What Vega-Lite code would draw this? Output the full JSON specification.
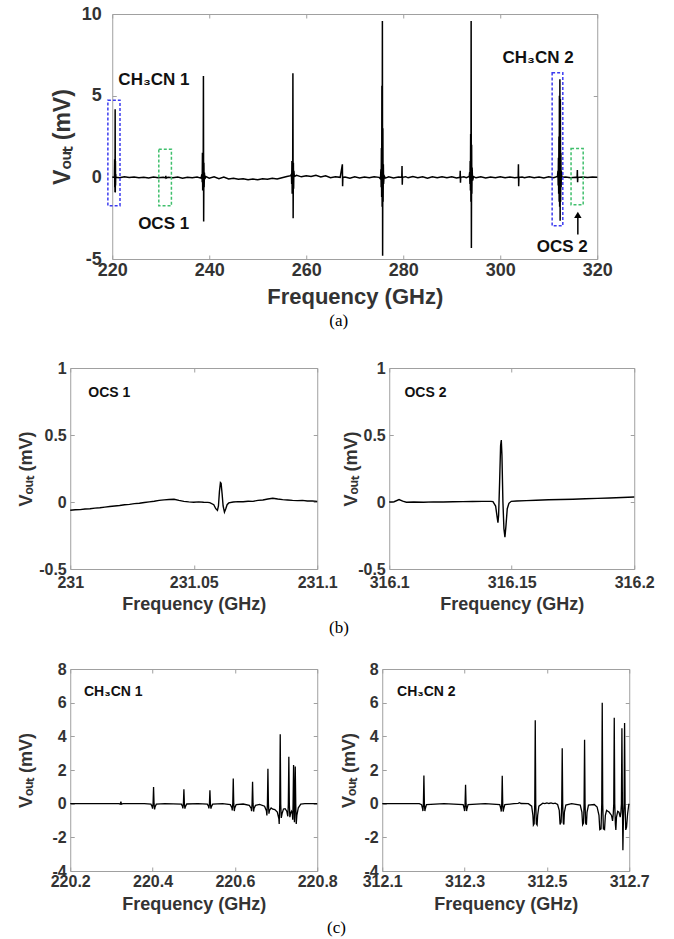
{
"$schema": "https://vega.github.io/schema/vega-lite/v6.json",
"background": "white",
"padding": {"left": -11, "top": 4, "right": 5, "bottom": 4},
"center": true,
"spacing": 29,
"config": {
  "view": {"stroke": "#a0a0a0", "strokeWidth": 1},
  "axis": {"domain": false, "grid": false, "ticks": true, "tickColor": "#a0a0a0", "tickSize": -4, "tickWidth": 1,
           "labelFont": "Liberation Sans", "labelFontWeight": "bold", "labelColor": "#333333", "labelFontSize": 16,
           "titleFont": "Liberation Sans", "titleFontWeight": "bold", "titleColor": "#333333", "titleFontSize": 18,
           "labelFlush": false, "labelOverlap": false},
  "title": {"font": "Liberation Serif", "fontWeight": "normal", "fontSize": 17, "color": "#000000", "anchor": "middle"}
},
"datasets": {
  "top": [
    {"f":220.0,"v":0.02},{"f":220.3,"v":0.0},{"f":220.45,"v":0.0},{"f":220.5,"v":1.1},{"f":220.52,"v":-0.6},{"f":220.55,"v":0.8},{"f":220.57,"v":-0.9},{"f":220.6,"v":4.17},{"f":220.63,"v":-0.93},{"f":220.66,"v":1.0},{"f":220.68,"v":-0.5},{"f":220.72,"v":0.2},{"f":220.76,"v":0.0},
    {"f":221.5,"v":-0.02},{"f":222.5,"v":0.03},{"f":223.5,"v":-0.01},{"f":224.5,"v":0.02},{"f":225.5,"v":-0.03},{"f":226.5,"v":0.0},{"f":227.5,"v":-0.04},{"f":228.5,"v":0.02},{"f":229.5,"v":-0.02},{"f":230.5,"v":0.01},{"f":231.02,"v":-0.03},{"f":231.06,"v":0.1},{"f":231.1,"v":-0.05},{"f":231.5,"v":0.0},{"f":232.5,"v":-0.03},{"f":233.5,"v":0.02},{"f":234.5,"v":-0.05},{"f":235.5,"v":0.01},{"f":236.5,"v":-0.03},{"f":237.5,"v":0.02},{"f":238.3,"v":-0.05},
    {"f":238.5,"v":0.2},{"f":238.55,"v":-0.3},{"f":238.6,"v":1.5},{"f":238.65,"v":-0.8},{"f":238.7,"v":0.6},{"f":238.75,"v":-0.5},{"f":238.8,"v":6.2},{"f":238.85,"v":-2.7},{"f":238.9,"v":0.9},{"f":238.95,"v":-0.6},{"f":239.0,"v":0.3},{"f":239.1,"v":-0.1},{"f":239.3,"v":0.05},
    {"f":240,"v":-0.05},{"f":241,"v":0.04},{"f":242,"v":-0.08},{"f":243,"v":0.02},{"f":244,"v":-0.1},{"f":245,"v":-0.06},{"f":246,"v":-0.12},{"f":247,"v":-0.08},{"f":248,"v":-0.14},{"f":249,"v":-0.1},{"f":250,"v":-0.15},{"f":251,"v":-0.09},{"f":252,"v":-0.12},{"f":253,"v":-0.05},{"f":254,"v":-0.1},{"f":255,"v":-0.02},{"f":256,"v":0.05},{"f":256.8,"v":0.1},
    {"f":256.95,"v":0.2},{"f":257.0,"v":-0.4},{"f":257.05,"v":1.0},{"f":257.1,"v":-1.0},{"f":257.15,"v":0.8},{"f":257.2,"v":-0.6},{"f":257.25,"v":6.37},{"f":257.3,"v":-2.5},{"f":257.35,"v":0.9},{"f":257.4,"v":-0.7},{"f":257.45,"v":0.4},{"f":257.55,"v":0.05},
    {"f":258,"v":0.12},{"f":259,"v":0.03},{"f":260,"v":0.1},{"f":261,"v":0.05},{"f":262,"v":0.12},{"f":263,"v":0.02},{"f":264,"v":0.1},{"f":265,"v":-0.02},{"f":266,"v":0.04},{"f":267,"v":0.0},{"f":267.45,"v":0.8},{"f":267.5,"v":-0.55},{"f":267.55,"v":0.0},{"f":268,"v":0.02},{"f":269,"v":-0.05},{"f":270,"v":0.03},{"f":271,"v":-0.04},{"f":272,"v":0.02},{"f":273,"v":-0.03},{"f":274,"v":0.04},{"f":275,"v":0.0},{"f":275.3,"v":-0.1},
    {"f":275.4,"v":0.5},{"f":275.45,"v":-0.6},{"f":275.5,"v":1.8},{"f":275.55,"v":-1.2},{"f":275.6,"v":5.6},{"f":275.65,"v":-1.8},{"f":275.7,"v":9.57},{"f":275.75,"v":-4.8},{"f":275.8,"v":3.0},{"f":275.85,"v":-1.5},{"f":275.9,"v":0.8},{"f":275.95,"v":-0.4},{"f":276.05,"v":0.1},{"f":276.3,"v":-0.05},
    {"f":277,"v":0.03},{"f":278,"v":-0.04},{"f":279,"v":0.02},{"f":279.7,"v":0.0},{"f":279.75,"v":0.7},{"f":279.8,"v":-0.45},{"f":279.85,"v":0.0},{"f":280.5,"v":0.04},{"f":281,"v":-0.03},{"f":282,"v":0.05},{"f":283,"v":-0.02},{"f":284,"v":0.04},{"f":285,"v":-0.05},{"f":286,"v":0.03},{"f":287,"v":-0.03},{"f":288,"v":0.04},{"f":289,"v":-0.02},{"f":290,"v":0.03},{"f":291,"v":-0.04},{"f":291.7,"v":0.0},{"f":291.75,"v":0.4},{"f":291.8,"v":-0.33},{"f":291.85,"v":0.0},{"f":292.5,"v":0.03},{"f":293,"v":-0.02},{"f":293.6,"v":0.05},
    {"f":293.7,"v":0.3},{"f":293.75,"v":-0.4},{"f":293.8,"v":1.0},{"f":293.85,"v":-0.8},{"f":293.9,"v":2.65},{"f":293.95,"v":-1.5},{"f":294.0,"v":9.57},{"f":294.05,"v":-4.33},{"f":294.1,"v":2.0},{"f":294.15,"v":-1.0},{"f":294.2,"v":0.6},{"f":294.3,"v":-0.2},{"f":294.5,"v":0.05},
    {"f":295,"v":-0.03},{"f":296,"v":0.03},{"f":297,"v":-0.04},{"f":298,"v":0.02},{"f":299,"v":-0.02},{"f":300,"v":0.04},{"f":301,"v":-0.03},{"f":302,"v":0.02},{"f":303,"v":-0.02},{"f":303.7,"v":0.0},{"f":303.75,"v":0.8},{"f":303.8,"v":-0.55},{"f":303.85,"v":0.0},{"f":304.5,"v":0.02},{"f":305,"v":-0.03},{"f":306,"v":0.03},{"f":307,"v":-0.02},{"f":308,"v":0.02},{"f":309,"v":-0.04},{"f":310,"v":0.03},{"f":311,"v":-0.02},{"f":311.8,"v":0.05},
    {"f":311.9,"v":0.4},{"f":311.95,"v":-0.5},{"f":312.0,"v":1.2},{"f":312.05,"v":-1.0},{"f":312.1,"v":2.5},{"f":312.15,"v":-1.5},{"f":312.2,"v":5.0},{"f":312.25,"v":-1.8},{"f":312.3,"v":6.0},{"f":312.35,"v":-2.66},{"f":312.4,"v":4.8},{"f":312.45,"v":-1.5},{"f":312.5,"v":1.5},{"f":312.55,"v":-0.6},{"f":312.6,"v":0.4},{"f":312.7,"v":0.0},
    {"f":313.5,"v":0.02},{"f":314.5,"v":-0.02},{"f":315.5,"v":0.01},{"f":315.85,"v":0.0},{"f":315.9,"v":0.45},{"f":315.95,"v":-0.3},{"f":316.0,"v":0.0},{"f":317,"v":0.02},{"f":318,"v":-0.01},{"f":319,"v":0.02},{"f":320,"v":0.0}
  ],
  "boxes": [
    {"f1":219.1,"f2":221.6,"v1":-1.74,"v2":4.72,"c":"blue"},
    {"f1":229.6,"f2":232.2,"v1":-1.74,"v2":1.72,"c":"green"},
    {"f1":310.7,"f2":312.9,"v1":-2.97,"v2":6.41,"c":"blue"},
    {"f1":314.6,"f2":317.1,"v1":-1.68,"v2":1.76,"c":"green"}
  ],
  "ann": [
    {"f":228.6,"v":5.94,"t":"CH₃CN 1"},
    {"f":230.6,"v":-2.85,"t":"OCS 1"},
    {"f":307.8,"v":7.33,"t":"CH₃CN 2"},
    {"f":312.8,"v":-4.29,"t":"OCS 2"}
  ],
  "ocs1": [
    {"f":231.000,"v":-0.062},{"f":231.002,"v":-0.058},{"f":231.004,"v":-0.057},{"f":231.006,"v":-0.052},{"f":231.008,"v":-0.05},{"f":231.010,"v":-0.046},{"f":231.012,"v":-0.043},{"f":231.014,"v":-0.038},{"f":231.016,"v":-0.034},{"f":231.018,"v":-0.03},{"f":231.020,"v":-0.026},{"f":231.022,"v":-0.021},{"f":231.024,"v":-0.018},{"f":231.026,"v":-0.012},{"f":231.028,"v":-0.009},{"f":231.030,"v":-0.004},{"f":231.032,"v":0.001},{"f":231.034,"v":0.006},{"f":231.036,"v":0.012},{"f":231.038,"v":0.016},{"f":231.040,"v":0.019},{"f":231.042,"v":0.02},{"f":231.044,"v":0.012},{"f":231.046,"v":0.005},{"f":231.048,"v":0.001},{"f":231.050,"v":-0.002},{"f":231.052,"v":0.001},{"f":231.054,"v":-0.002},{"f":231.0556,"v":-0.003},
    {"f":231.05649,"v":-0.005},{"f":231.05811,"v":-0.02},{"f":231.05892,"v":-0.05},{"f":231.05959,"v":-0.0625},{"f":231.06,"v":-0.03},{"f":231.06041,"v":0.08},{"f":231.06081,"v":0.145},{"f":231.06108,"v":0.14},{"f":231.06149,"v":0.06},{"f":231.06189,"v":-0.03},{"f":231.06243,"v":-0.075},{"f":231.06297,"v":-0.05},{"f":231.06351,"v":-0.02},{"f":231.06419,"v":-0.007},
    {"f":231.066,"v":0.0},{"f":231.068,"v":0.003},{"f":231.070,"v":0.002},{"f":231.072,"v":0.006},{"f":231.074,"v":0.005},{"f":231.076,"v":0.012},{"f":231.078,"v":0.015},{"f":231.080,"v":0.022},{"f":231.082,"v":0.028},{"f":231.084,"v":0.022},{"f":231.086,"v":0.018},{"f":231.088,"v":0.015},{"f":231.090,"v":0.012},{"f":231.092,"v":0.01},{"f":231.094,"v":0.012},{"f":231.096,"v":0.008},{"f":231.098,"v":0.007},{"f":231.100,"v":0.005}
  ],
  "ocs2": [
    {"f":316.100,"v":0.0},{"f":316.102,"v":0.002},{"f":316.104,"v":0.018},{"f":316.1055,"v":0.006},{"f":316.107,"v":-0.002},{"f":316.110,"v":0.0},{"f":316.114,"v":-0.002},{"f":316.118,"v":0.001},{"f":316.122,"v":0.0},{"f":316.126,"v":0.002},{"f":316.130,"v":0.003},{"f":316.134,"v":0.004},{"f":316.138,"v":0.005},{"f":316.1415,"v":0.005},
    {"f":316.14233,"v":0.003},{"f":316.14342,"v":-0.03},{"f":316.1441,"v":-0.12},{"f":316.14437,"v":-0.155},{"f":316.14464,"v":-0.1},{"f":316.14505,"v":0.15},{"f":316.14545,"v":0.42},{"f":316.14573,"v":0.4625},{"f":316.146,"v":0.35},{"f":316.1464,"v":0.0},{"f":316.14681,"v":-0.2},{"f":316.14722,"v":-0.2625},{"f":316.14763,"v":-0.18},{"f":316.14817,"v":-0.05},{"f":316.14885,"v":-0.01},{"f":316.1498,"v":0.005},
    {"f":316.152,"v":0.008},{"f":316.156,"v":0.01},{"f":316.160,"v":0.013},{"f":316.165,"v":0.017},{"f":316.170,"v":0.019},{"f":316.175,"v":0.021},{"f":316.180,"v":0.024},{"f":316.185,"v":0.027},{"f":316.190,"v":0.03},{"f":316.195,"v":0.034},{"f":316.200,"v":0.037}
  ],
  "ch1": [
    {"f":220.200,"v":0.0},{"f":220.250,"v":0.0},{"f":220.300,"v":0.0},{"f":220.318,"v":0.0},{"f":220.3215,"v":-0.03},{"f":220.323,"v":0.12},{"f":220.3245,"v":-0.03},{"f":220.328,"v":0.0},
    {"f":220.380,"v":0.0},{"f":220.396,"v":-0.03},{"f":220.399,"v":-0.18},{"f":220.3999,"v":-0.3},{"f":220.4012,"v":0.0},{"f":220.4024,"v":0.99},{"f":220.4036,"v":0.0},{"f":220.4049,"v":-0.34},{"f":220.406,"v":-0.2},{"f":220.409,"v":-0.03},
    {"f":220.430,"v":0.0},{"f":220.470,"v":-0.03},{"f":220.4728,"v":-0.17},{"f":220.4736,"v":-0.28},{"f":220.4749,"v":0.0},{"f":220.4761,"v":0.85},{"f":220.4773,"v":0.0},{"f":220.4786,"v":-0.3},{"f":220.4797,"v":-0.18},{"f":220.483,"v":-0.02},
    {"f":220.510,"v":0.0},{"f":220.533,"v":-0.03},{"f":220.536,"v":-0.17},{"f":220.5368,"v":-0.28},{"f":220.5381,"v":0.0},{"f":220.5393,"v":0.79},{"f":220.5405,"v":0.0},{"f":220.5418,"v":-0.3},{"f":220.5429,"v":-0.18},{"f":220.546,"v":-0.03},
    {"f":220.570,"v":0.0},{"f":220.589,"v":-0.06},{"f":220.5927,"v":-0.24},{"f":220.5935,"v":-0.4},{"f":220.5948,"v":0.0},{"f":220.596,"v":1.5},{"f":220.5972,"v":0.0},{"f":220.5985,"v":-0.44},{"f":220.5996,"v":-0.26},{"f":220.603,"v":-0.06},
    {"f":220.620,"v":-0.02},{"f":220.635,"v":-0.1},{"f":220.6396,"v":-0.28},{"f":220.6404,"v":-0.45},{"f":220.6417,"v":0.0},{"f":220.6429,"v":1.3},{"f":220.6441,"v":0.0},{"f":220.6454,"v":-0.47},{"f":220.6465,"v":-0.28},{"f":220.650,"v":-0.1},
    {"f":220.660,"v":-0.04},{"f":220.672,"v":-0.15},{"f":220.6765,"v":-0.42},{"f":220.6777,"v":-0.7},{"f":220.679,"v":0.0},{"f":220.6802,"v":2.08},{"f":220.6814,"v":0.0},{"f":220.6827,"v":-0.6},{"f":220.684,"v":-0.4},
    {"f":220.688,"v":-0.25},{"f":220.692,"v":-0.33},{"f":220.697,"v":-0.35},{"f":220.703,"v":-0.5},{"f":220.7068,"v":-0.9},{"f":220.7076,"v":-1.2},{"f":220.7089,"v":0.0},{"f":220.7101,"v":4.12},{"f":220.7113,"v":0.0},{"f":220.7126,"v":-0.85},{"f":220.7145,"v":-0.6},
    {"f":220.718,"v":-0.32},{"f":220.722,"v":-0.3},{"f":220.726,"v":-0.45},{"f":220.7285,"v":-0.75},{"f":220.7298,"v":0.0},{"f":220.731,"v":2.79},{"f":220.7322,"v":0.0},{"f":220.7335,"v":-0.8},{"f":220.7355,"v":-0.55},{"f":220.7375,"v":-0.45},
    {"f":220.7395,"v":-0.6},{"f":220.7405,"v":-0.95},{"f":220.7413,"v":0.0},{"f":220.7425,"v":2.3},{"f":220.7437,"v":0.0},{"f":220.7446,"v":-1.1},{"f":220.7454,"v":0.0},{"f":220.7466,"v":2.2},{"f":220.7478,"v":0.0},{"f":220.749,"v":-1.2},{"f":220.7505,"v":-0.7},{"f":220.754,"v":-0.25},{"f":220.760,"v":-0.03},{"f":220.770,"v":0.0},{"f":220.800,"v":0.0}
  ],
  "ch2": [
    {"f":312.100,"v":0.0},{"f":312.150,"v":0.0},{"f":312.190,"v":0.0},{"f":312.1955,"v":-0.06},{"f":312.198,"v":-0.3},{"f":312.1988,"v":-0.44},{"f":312.2,"v":0.0},{"f":312.2012,"v":1.68},{"f":312.2024,"v":0.0},{"f":312.2036,"v":-0.44},{"f":312.2046,"v":-0.3},{"f":312.2075,"v":-0.05},
    {"f":312.250,"v":0.0},{"f":312.2965,"v":-0.05},{"f":312.2992,"v":-0.3},{"f":312.3,"v":-0.44},{"f":312.3012,"v":0.0},{"f":312.3024,"v":1.13},{"f":312.3036,"v":0.0},{"f":312.3048,"v":-0.44},{"f":312.3058,"v":-0.3},{"f":312.3085,"v":-0.05},
    {"f":312.350,"v":0.0},{"f":312.3855,"v":-0.06},{"f":312.3883,"v":-0.32},{"f":312.3891,"v":-0.47},{"f":312.3903,"v":0.0},{"f":312.3915,"v":1.66},{"f":312.3927,"v":0.0},{"f":312.3939,"v":-0.47},{"f":312.3949,"v":-0.32},{"f":312.3978,"v":-0.06},
    {"f":312.420,"v":0.0},{"f":312.430,"v":0.02},{"f":312.4336,"v":0.06},{"f":312.437,"v":0.01},{"f":312.455,"v":0.0},
    {"f":312.463,"v":-0.15},{"f":312.466,"v":-0.7},{"f":312.4672,"v":-1.27},{"f":312.469,"v":-1.2},{"f":312.4705,"v":0.0},{"f":312.4717,"v":4.95},{"f":312.4729,"v":0.0},{"f":312.4743,"v":-1.2},{"f":312.4762,"v":-1.27},{"f":312.4775,"v":-0.7},{"f":312.4805,"v":-0.15},
    {"f":312.490,"v":0.03},{"f":312.495,"v":0.0},{"f":312.500,"v":0.05},{"f":312.505,"v":0.01},{"f":312.510,"v":0.04},{"f":312.515,"v":0.0},{"f":312.520,"v":0.03},
    {"f":312.526,"v":-0.05},{"f":312.530,"v":-0.4},{"f":312.532,"v":-1.23},{"f":312.5345,"v":-1.1},{"f":312.536,"v":0.0},{"f":312.5372,"v":3.29},{"f":312.5384,"v":0.0},{"f":312.5398,"v":-1.15},{"f":312.5412,"v":-1.23},{"f":312.5425,"v":-0.5},{"f":312.546,"v":-0.08},
    {"f":312.560,"v":0.0},{"f":312.581,"v":-0.08},{"f":312.585,"v":-0.5},{"f":312.5868,"v":-1.25},{"f":312.589,"v":-1.15},{"f":312.5903,"v":0.0},{"f":312.5915,"v":3.8},{"f":312.5927,"v":0.0},{"f":312.5941,"v":-1.15},{"f":312.596,"v":-1.25},{"f":312.5975,"v":-0.5},{"f":312.601,"v":-0.08},
    {"f":312.615,"v":-0.05},{"f":312.622,"v":-0.2},{"f":312.6265,"v":-0.7},{"f":312.6285,"v":-1.54},{"f":312.6315,"v":-1.5},{"f":312.6332,"v":0.0},{"f":312.6344,"v":6.0},{"f":312.6356,"v":0.0},{"f":312.6372,"v":-1.5},{"f":312.64,"v":-1.54},{"f":312.642,"v":-0.7},
    {"f":312.645,"v":-0.4},{"f":312.648,"v":-0.45},{"f":312.651,"v":-0.5},{"f":312.657,"v":-0.7},{"f":312.6595,"v":-1.03},{"f":312.6612,"v":-0.6},{"f":312.6624,"v":0.0},{"f":312.6636,"v":5.11},{"f":312.6648,"v":0.0},{"f":312.6663,"v":-1.2},{"f":312.6675,"v":-1.56},{"f":312.669,"v":-0.8},
    {"f":312.672,"v":-0.45},{"f":312.675,"v":-0.5},{"f":312.678,"v":-0.8},{"f":312.6798,"v":-0.5},{"f":312.681,"v":0.0},{"f":312.6822,"v":4.48},{"f":312.6834,"v":0.0},{"f":312.6846,"v":-2.77},{"f":312.6858,"v":-1.0},{"f":312.6875,"v":0.0},{"f":312.6887,"v":4.79},{"f":312.6899,"v":0.0},{"f":312.6915,"v":-1.56},{"f":312.6935,"v":-1.4},{"f":312.696,"v":-0.6},{"f":312.699,"v":-0.05},{"f":312.7,"v":0.0}
  ]
},
"vconcat": [
  {
    "width": 485, "height": 245,
    "title": {"text": "(a)", "orient": "bottom", "offset": 6, "frame": "group", "dx": -16},
    "resolve": {"axis": {"x": "independent", "y": "independent"}},
    "layer": [
      {"data": {"name": "top"}, "mark": {"type": "line", "color": "#000000", "strokeWidth": 1.5},
       "encoding": {
         "x": {"field": "f", "type": "quantitative", "scale": {"domain": [220, 320], "nice": false, "zero": false},
               "axis": {"values": [220,240,260,280,300,320], "title": "Frequency (GHz)", "labelFontSize": 18, "titleFontSize": 22, "labelPadding": 6, "titlePadding": 7, "labelExpr": "'' + datum.value"}},
         "y": {"field": "v", "type": "quantitative", "scale": {"domain": [-5, 10], "nice": false, "zero": false},
               "axis": {"values": [-5,0,5,10], "title": "Vₒᵤₜ (mV)", "labelFontSize": 18, "titleFontSize": 23, "labelPadding": 15, "titlePadding": 7, "labelExpr": "'' + datum.value"}}
       }},
      {"data": {"name": "boxes"}, "mark": {"type": "rect", "filled": false, "strokeDash": [3, 2], "strokeWidth": 1.5},
       "encoding": {
         "x": {"field": "f1", "type": "quantitative", "scale": {"domain": [220, 320], "nice": false, "zero": false},
               "axis": {"orient": "top", "values": [220,240,260,280,300,320], "labels": false, "title": null}},
         "x2": {"field": "f2"},
         "y": {"field": "v1", "type": "quantitative", "scale": {"domain": [-5, 10], "nice": false, "zero": false},
               "axis": {"orient": "right", "values": [-5,0,5,10], "labels": false, "title": null}},
         "y2": {"field": "v2"},
         "stroke": {"field": "c", "type": "nominal", "scale": {"domain": ["blue", "green"], "range": ["#3b3bf0", "#3fbf6c"]}, "legend": null}
       }},
      {"data": {"name": "ann"}, "mark": {"type": "text", "font": "Liberation Sans", "fontWeight": "bold", "fontSize": 17, "color": "#111111", "align": "center", "baseline": "middle"},
       "encoding": {
         "x": {"field": "f", "type": "quantitative", "scale": {"domain": [220, 320], "nice": false, "zero": false}, "axis": null},
         "y": {"field": "v", "type": "quantitative", "scale": {"domain": [-5, 10], "nice": false, "zero": false}, "axis": null},
         "text": {"field": "t"}
       }},
      {"data": {"values": [{"f": 316.0, "v1": -3.5, "v2": -2.4}]}, "mark": {"type": "rule", "color": "#000000", "strokeWidth": 1.5},
       "encoding": {
         "x": {"field": "f", "type": "quantitative", "scale": {"domain": [220, 320], "nice": false, "zero": false}, "axis": null},
         "y": {"field": "v1", "type": "quantitative", "scale": {"domain": [-5, 10], "nice": false, "zero": false}, "axis": null},
         "y2": {"field": "v2"}
       }},
      {"data": {"values": [{"f": 316.0, "v": -2.3}]}, "mark": {"type": "point", "shape": "triangle-up", "filled": true, "color": "#000000", "size": 55, "opacity": 1},
       "encoding": {
         "x": {"field": "f", "type": "quantitative", "scale": {"domain": [220, 320], "nice": false, "zero": false}, "axis": null},
         "y": {"field": "v", "type": "quantitative", "scale": {"domain": [-5, 10], "nice": false, "zero": false}, "axis": null}
       }}
    ]
  },
  {
    "spacing": 24,
    "vconcat": [
      {
        "align": "none",
        "spacing": 3,
        "title": {"text": "(b)", "orient": "bottom", "offset": 6, "dx": 17},
        "hconcat": [
          {
            "width": 247, "height": 201,
            "resolve": {"axis": {"x": "independent", "y": "independent"}},
            "layer": [
              {"data": {"name": "ocs1"}, "mark": {"type": "line", "color": "#000000", "strokeWidth": 1.4},
               "encoding": {
                 "x": {"field": "f", "type": "quantitative", "scale": {"domain": [231, 231.1], "nice": false, "zero": false},
                       "axis": {"values": [231, 231.05, 231.1], "title": "Frequency (GHz)", "labelPadding": 9, "titlePadding": 5, "labelExpr": "'' + datum.value"}},
                 "y": {"field": "v", "type": "quantitative", "scale": {"domain": [-0.5, 1], "nice": false, "zero": false},
                       "axis": {"values": [-0.5, 0, 0.5, 1], "title": ["", "Vₒᵤₜ (mV)"], "titleLineHeight": 27.5, "labelPadding": 8, "titlePadding": 1, "minExtent": 34, "maxExtent": 34, "labelExpr": "'' + datum.value"}}
               }},
              {"data": {"values": [{"f": 231.0073, "v": 0.81, "t": "OCS 1"}]}, "mark": {"type": "text", "font": "Liberation Sans", "fontWeight": "bold", "fontSize": 14, "color": "#111111", "align": "left", "baseline": "middle"},
               "encoding": {
                 "x": {"field": "f", "type": "quantitative", "scale": {"domain": [231, 231.1], "nice": false, "zero": false},
                       "axis": {"orient": "top", "values": [231, 231.05, 231.1], "labels": false, "title": null}},
                 "y": {"field": "v", "type": "quantitative", "scale": {"domain": [-0.5, 1], "nice": false, "zero": false},
                       "axis": {"orient": "right", "values": [-0.5, 0, 0.5, 1], "labels": false, "title": null}},
                 "text": {"field": "t"}
               }}
            ]
          },
          {
            "width": 245, "height": 201,
            "resolve": {"axis": {"x": "independent", "y": "independent"}},
            "layer": [
              {"data": {"name": "ocs2"}, "mark": {"type": "line", "color": "#000000", "strokeWidth": 1.4},
               "encoding": {
                 "x": {"field": "f", "type": "quantitative", "scale": {"domain": [316.1, 316.2], "nice": false, "zero": false},
                       "axis": {"values": [316.1, 316.15, 316.2], "title": "Frequency (GHz)", "labelPadding": 9, "titlePadding": 5, "labelExpr": "'' + datum.value"}},
                 "y": {"field": "v", "type": "quantitative", "scale": {"domain": [-0.5, 1], "nice": false, "zero": false},
                       "axis": {"values": [-0.5, 0, 0.5, 1], "title": "Vₒᵤₜ (mV)", "labelPadding": 8, "titlePadding": 1, "minExtent": 28, "maxExtent": 28, "labelExpr": "'' + datum.value"}}
               }},
              {"data": {"values": [{"f": 316.1062, "v": 0.81, "t": "OCS 2"}]}, "mark": {"type": "text", "font": "Liberation Sans", "fontWeight": "bold", "fontSize": 14, "color": "#111111", "align": "left", "baseline": "middle"},
               "encoding": {
                 "x": {"field": "f", "type": "quantitative", "scale": {"domain": [316.1, 316.2], "nice": false, "zero": false},
                       "axis": {"orient": "top", "values": [316.1, 316.15, 316.2], "labels": false, "title": null}},
                 "y": {"field": "v", "type": "quantitative", "scale": {"domain": [-0.5, 1], "nice": false, "zero": false},
                       "axis": {"orient": "right", "values": [-0.5, 0, 0.5, 1], "labels": false, "title": null}},
                 "text": {"field": "t"}
               }}
            ]
          }
        ]
      },
      {
        "align": "none",
        "spacing": 1,
        "title": {"text": "(c)", "orient": "bottom", "offset": 6, "dx": 17},
        "hconcat": [
          {
            "width": 247, "height": 202,
            "resolve": {"axis": {"x": "independent", "y": "independent"}},
            "layer": [
              {"data": {"name": "ch1"}, "mark": {"type": "line", "color": "#000000", "strokeWidth": 1.3},
               "encoding": {
                 "x": {"field": "f", "type": "quantitative", "scale": {"domain": [220.2, 220.8], "nice": false, "zero": false},
                       "axis": {"values": [220.2, 220.4, 220.6, 220.8], "title": "Frequency (GHz)", "labelPadding": 6, "titlePadding": 6, "labelExpr": "'' + datum.value"}},
                 "y": {"field": "v", "type": "quantitative", "scale": {"domain": [-4, 8], "nice": false, "zero": false},
                       "axis": {"values": [-4, -2, 0, 2, 4, 6, 8], "title": ["", "Vₒᵤₜ (mV)"], "titleLineHeight": 27.5, "labelPadding": 8, "titlePadding": 1, "minExtent": 34, "maxExtent": 34, "labelExpr": "'' + datum.value"}}
               }},
              {"data": {"values": [{"f": 220.2333, "v": 6.65, "t": "CH₃CN 1"}]}, "mark": {"type": "text", "font": "Liberation Sans", "fontWeight": "bold", "fontSize": 14, "color": "#111111", "align": "left", "baseline": "middle"},
               "encoding": {
                 "x": {"field": "f", "type": "quantitative", "scale": {"domain": [220.2, 220.8], "nice": false, "zero": false},
                       "axis": {"orient": "top", "values": [220.2, 220.4, 220.6, 220.8], "labels": false, "title": null}},
                 "y": {"field": "v", "type": "quantitative", "scale": {"domain": [-4, 8], "nice": false, "zero": false},
                       "axis": {"orient": "right", "values": [-4, -2, 0, 2, 4, 6, 8], "labels": false, "title": null}},
                 "text": {"field": "t"}
               }}
            ]
          },
          {
            "width": 247, "height": 202,
            "resolve": {"axis": {"x": "independent", "y": "independent"}},
            "layer": [
              {"data": {"name": "ch2"}, "mark": {"type": "line", "color": "#000000", "strokeWidth": 1.3},
               "encoding": {
                 "x": {"field": "f", "type": "quantitative", "scale": {"domain": [312.1, 312.7], "nice": false, "zero": false},
                       "axis": {"values": [312.1, 312.3, 312.5, 312.7], "title": "Frequency (GHz)", "labelPadding": 6, "titlePadding": 6, "labelExpr": "'' + datum.value"}},
                 "y": {"field": "v", "type": "quantitative", "scale": {"domain": [-4, 8], "nice": false, "zero": false},
                       "axis": {"values": [-4, -2, 0, 2, 4, 6, 8], "title": "Vₒᵤₜ (mV)", "labelPadding": 8, "titlePadding": 1, "minExtent": 23, "maxExtent": 23, "labelExpr": "'' + datum.value"}}
               }},
              {"data": {"values": [{"f": 312.136, "v": 6.65, "t": "CH₃CN 2"}]}, "mark": {"type": "text", "font": "Liberation Sans", "fontWeight": "bold", "fontSize": 14, "color": "#111111", "align": "left", "baseline": "middle"},
               "encoding": {
                 "x": {"field": "f", "type": "quantitative", "scale": {"domain": [312.1, 312.7], "nice": false, "zero": false},
                       "axis": {"orient": "top", "values": [312.1, 312.3, 312.5, 312.7], "labels": false, "title": null}},
                 "y": {"field": "v", "type": "quantitative", "scale": {"domain": [-4, 8], "nice": false, "zero": false},
                       "axis": {"orient": "right", "values": [-4, -2, 0, 2, 4, 6, 8], "labels": false, "title": null}},
                 "text": {"field": "t"}
               }}
            ]
          }
        ]
      }
    ]
  }
]
}
